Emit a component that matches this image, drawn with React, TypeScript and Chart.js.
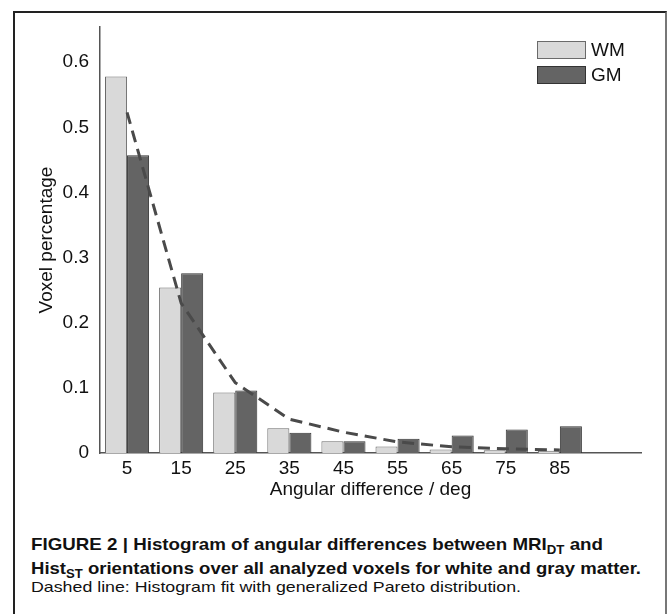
import React, { useEffect, useLayoutEffect, useRef } from 'react';
import { Chart, registerables } from 'chart.js';

Chart.register(...registerables);

// ---- data ----
const categories = ['5', '15', '25', '35', '45', '55', '65', '75', '85'];
const axisLabels = [...categories, ''];
const wmValues = [0.578, 0.254, 0.093, 0.038, 0.018, 0.0098, 0.0052, 0.0041, 0.0035];
const gmValues = [0.457, 0.276, 0.096, 0.031, 0.018, 0.022, 0.027, 0.036, 0.041];
const paretoFit = [0.523, 0.23, 0.108, 0.052, 0.032, 0.017, 0.0095, 0.0066, 0.0046];
const yTicks = [0, 0.1, 0.2, 0.3, 0.4, 0.5, 0.6];
const yMax = 0.654;
const seriesNames = ['WM', 'GM'];

const FONT = "'Liberation Sans', Arial, Helvetica, sans-serif";

const legendPlugin = {
  id: 'boxLegend',
  afterDraw(chart: any) {
    const ctx = chart.ctx;
    const bars = chart.data.datasets.filter((d: any) => d.type !== 'line');
    const x0 = chart.chartArea.right - 104;
    let y0 = 41;
    ctx.save();
    bars.forEach((ds: any) => {
      ctx.fillStyle = ds.backgroundColor;
      ctx.fillRect(x0, y0, 49, 18);
      ctx.strokeStyle = ds.borderColor;
      ctx.lineWidth = 1;
      ctx.strokeRect(x0 + 0.5, y0 + 0.5, 48, 17);
      ctx.fillStyle = '#111';
      ctx.font = `19px ${FONT}`;
      ctx.textBaseline = 'middle';
      ctx.textAlign = 'left';
      ctx.fillText(ds.label, x0 + 54, y0 + 10);
      y0 += 25;
    });
    ctx.restore();
  },
};

function ChartCanvas() {
  const ref = useRef<HTMLCanvasElement>(null);
  useEffect(() => {
    if (!ref.current) return;
    const chart = new Chart(ref.current, {
      type: 'bar',
      data: {
        labels: axisLabels,
        datasets: [
          {
            type: 'line',
            label: 'Pareto fit',
            data: paretoFit,
            borderColor: '#4a4a4a',
            borderWidth: 3,
            borderDash: [12, 7],
            pointRadius: 0,
            fill: false,
            tension: 0,
            order: 0,
          } as any,
          {
            label: seriesNames[0],
            data: wmValues,
            backgroundColor: '#d9d9d9',
            borderColor: '#6a6a6a',
            borderWidth: 1,
            categoryPercentage: 0.815,
            barPercentage: 1,
            order: 1,
          },
          {
            label: seriesNames[1],
            data: gmValues,
            backgroundColor: '#646464',
            borderColor: '#333333',
            borderWidth: 1,
            categoryPercentage: 0.815,
            barPercentage: 1,
            order: 1,
          },
        ],
      },
      options: {
        responsive: false,
        animation: false,
        layout: { padding: { left: 0, right: 28, top: 27, bottom: 7 } },
        plugins: { legend: { display: false }, tooltip: { enabled: false } },
        scales: {
          x: {
            grid: { display: false, drawTicks: false },
            border: { display: true, color: '#555', width: 1.5 },
            ticks: {
              font: { family: FONT, size: 19 },
              color: '#111',
              padding: 4,
              maxRotation: 0,
              autoSkip: false,
            },
            title: {
              display: true,
              text: 'Angular difference / deg',
              font: { family: FONT, size: 19 },
              color: '#111',
              padding: { top: 0, bottom: 12 },
            },
            afterFit: (s: any) => {
              s.height = 60;
            },
          },
          y: {
            min: 0,
            max: yMax,
            grid: { display: false, drawTicks: false },
            border: { display: true, color: '#555', width: 1.5 },
            ticks: {
              font: { family: FONT, size: 19 },
              color: '#111',
              padding: 11,
              callback: (v: any) => {
                const n = Number(v);
                return n === 0 ? '0' : n.toFixed(1);
              },
            },
            afterBuildTicks: (s: any) => {
              s.ticks = yTicks.map((v) => ({ value: v }));
            },
            title: {
              display: true,
              text: 'Voxel percentage',
              font: { family: FONT, size: 19 },
              color: '#111',
              padding: { top: 35, bottom: 0 },
            },
            afterFit: (s: any) => {
              s.width = 100;
            },
          },
        },
      },
      plugins: [legendPlugin],
    });
    return () => chart.destroy();
  }, []);
  return (
    <canvas
      ref={ref}
      width={669}
      height={520}
      style={{ position: 'absolute', left: 0, top: 0, width: 669, height: 520 }}
    />
  );
}

function FitLine(props: {
  top: number;
  width: number;
  size: number;
  bold?: boolean;
  children: React.ReactNode;
}) {
  const ref = useRef<HTMLDivElement>(null);
  useLayoutEffect(() => {
    const el = ref.current;
    if (!el) return;
    el.style.transform = 'none';
    const w = el.getBoundingClientRect().width;
    if (w > 0) el.style.transform = `scaleX(${props.width / w})`;
  }, []);
  return (
    <div
      ref={ref}
      style={{
        position: 'absolute',
        left: 31,
        top: props.top,
        whiteSpace: 'nowrap',
        transformOrigin: '0 0',
        fontFamily: FONT,
        fontSize: props.size,
        fontWeight: props.bold ? 700 : 400,
        lineHeight: '20px',
        color: '#111',
      }}
    >
      {props.children}
    </div>
  );
}

const sub = (t: string) => (
  <span style={{ fontSize: 12, position: 'relative', top: 4 }}>{t}</span>
);

export default function App() {
  return (
    <div style={{ position: 'absolute', left: 0, top: 0, width: 669, height: 614, overflow: 'hidden', background: '#fff' }}>
      <div
        style={{
          position: 'absolute',
          left: 13,
          top: 11,
          width: 650,
          height: 700,
          borderLeft: '2px solid #222',
          borderRight: '2px solid #777',
          borderTop: '2px solid #222',
        }}
      />
      <ChartCanvas />
      <FitLine top={535} width={572} size={17} bold>
        FIGURE 2 | Histogram of angular differences between MRI{sub('DT')} and
      </FitLine>
      <FitLine top={559} width={610} size={17} bold>
        Hist{sub('ST')} orientations over all analyzed voxels for white and gray matter.
      </FitLine>
      <FitLine top={577} width={490} size={15}>
        Dashed line: Histogram fit with generalized Pareto distribution.
      </FitLine>
    </div>
  );
}
